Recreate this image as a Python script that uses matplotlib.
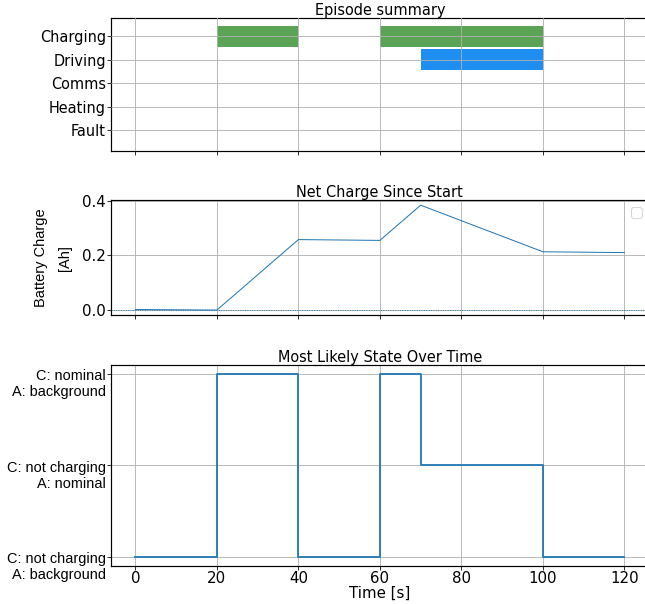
import matplotlib
matplotlib.use("Agg")
import matplotlib.pyplot as plt
from matplotlib.transforms import offset_copy

# episode summary (Gantt-style rows)
activities = ["Charging", "Driving", "Comms", "Heating", "Fault"]
episodes = {
    "Charging": [(20, 20), (60, 40)],
    "Driving": [(70, 30)],
    "Comms": [],
    "Heating": [],
    "Fault": [],
}
episode_colors = {"Charging": "#5ba456", "Driving": "#1e8ef0"}

# net battery charge
t_charge = [0, 20, 40, 60, 70, 100, 120]
charge = [0.0, -0.002, 0.258, 0.255, 0.385, 0.213, 0.210]

# most likely state (step)
t_state = [0, 20, 40, 60, 70, 100, 120]
state = [0, 2, 0, 2, 1, 0, 0]
state_labels = ["C: not charging\nA: background",
                "C: not charging\nA: nominal",
                "C: nominal\nA: background"]
time_ticks = [0, 20, 40, 60, 80, 100, 120]

DPI = 72  # 1 pt == 1 px
plt.rcParams.update({
    "font.family": "DejaVu Sans",
    "font.size": 10,
    "axes.linewidth": 1.2,
    "xtick.major.size": 4,
    "ytick.major.size": 4,
    "xtick.major.pad": 1,
    "ytick.major.pad": 1,
})

fig = plt.figure(figsize=(645 / DPI, 604 / DPI), dpi=DPI)
left, width = 0.172, 0.834
ax1 = fig.add_axes([left, 0.750, width, 0.220])
ax2 = fig.add_axes([left, 0.478, width, 0.191], sharex=ax1)
ax3 = fig.add_axes([left, 0.063, width, 0.333], sharex=ax1)

GRID = dict(color="#b0b0b0", linewidth=1.0, alpha=0.85)

# Panel 1: episode summary
for i, name in enumerate(activities):
    spans = episodes[name]
    if spans:
        ax1.broken_barh(spans, (i - 0.45, 0.9), facecolors=episode_colors[name], zorder=1)
ax1.set_yticks(range(len(activities)))
ax1.set_yticklabels(activities, fontsize=14.5)
ax1.set_ylim(4.89, -0.77)
ax1.grid(True, zorder=3, **GRID)
ax1.set_axisbelow(False)
ax1.set_title("Episode summary", fontsize=14.5, pad=1.5)
ax1.tick_params(labelbottom=False)

# Panel 2: net charge
ax2.plot(t_charge, charge, color="#1f77b4", linewidth=1.0)
ax2.axhline(0, color="#1f77b4", linewidth=0.9, linestyle=":")
ax2.set_yticks([0.0, 0.2, 0.4])
ax2.tick_params(axis="y", labelsize=15)
ax2.set_ylabel("Battery Charge\n[Ah]", fontsize=14.6, family="Liberation Sans",
               linespacing=1.95, labelpad=10)
ax2.grid(True, **GRID)
ax2.set_title("Net Charge Since Start", fontsize=14.5, pad=1.5)
ax2.tick_params(labelbottom=False)
ax2.legend(handles=[], loc="upper right", fontsize=14)

# Panel 3: most likely state
ax3.step(t_state, state, where="post", color="#1f77b4", linewidth=1.8)
ax3.set_yticks([0, 1, 2])
ax3.set_yticklabels(state_labels, fontsize=14.5, family="Liberation Sans")
# first line of each two-line label sits on its tick
for lab in ax3.get_yticklabels():
    lab.set_verticalalignment("baseline")
    lab.set_transform(offset_copy(lab.get_transform(), fig=fig, y=-22.5, units="points"))
ax3.grid(True, **GRID)
ax3.set_title("Most Likely State Over Time", fontsize=14.5, pad=1.5)
ax3.set_xlabel("Time [s]", fontsize=15, labelpad=0)
ax3.set_xticks(time_ticks)
ax3.tick_params(axis="x", labelsize=15)
ax3.set_xlim(-6, 126)

fig.savefig("out.png", dpi=DPI)
